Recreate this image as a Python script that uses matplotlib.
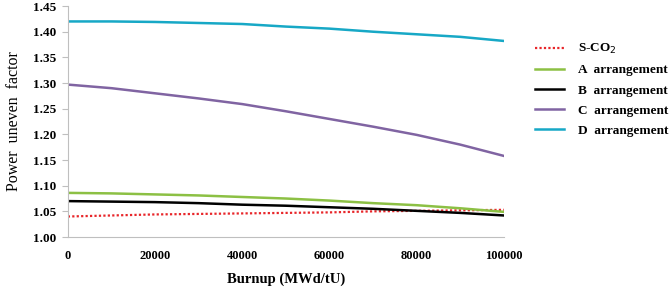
import matplotlib.pyplot as plt

# burnup points (MWd/tU)
burnup = [0, 10000, 20000, 30000, 40000, 50000, 60000, 70000, 80000, 90000, 100000]

sco2 = [1.040, 1.042, 1.044, 1.045, 1.046, 1.047, 1.048, 1.050, 1.051, 1.052, 1.053]
arr_a = [1.086, 1.085, 1.083, 1.081, 1.078, 1.075, 1.071, 1.066, 1.062, 1.056, 1.049]
arr_b = [1.070, 1.069, 1.068, 1.066, 1.063, 1.061, 1.058, 1.055, 1.051, 1.047, 1.042]
arr_c = [1.297, 1.290, 1.280, 1.270, 1.259, 1.245, 1.230, 1.215, 1.199, 1.180, 1.158]
arr_d = [1.420, 1.420, 1.419, 1.417, 1.415, 1.410, 1.406, 1.400, 1.395, 1.390, 1.382]

yticks = [1.00, 1.05, 1.10, 1.15, 1.20, 1.25, 1.30, 1.35, 1.40, 1.45]
xticks = [0, 20000, 40000, 60000, 80000, 100000]

plt.rcParams['font.family'] = ['Liberation Serif', 'DejaVu Serif']

fig = plt.figure(figsize=(6.71, 2.88), dpi=100)
ax = fig.add_axes([0.101, 0.177, 0.650, 0.802])

ax.plot(burnup, sco2, color='#e8262a', lw=1.6, linestyle=(0, (1, 1)), label='S-CO$_2$')
ax.plot(burnup, arr_a, color='#8cc044', lw=1.8, label='A  arrangement')
ax.plot(burnup, arr_b, color='black', lw=1.8, label='B  arrangement')
ax.plot(burnup, arr_c, color='#8064a2', lw=1.8, label='C  arrangement')
ax.plot(burnup, arr_d, color='#17a8c6', lw=1.8, label='D  arrangement')

ax.set_xlim(0, 100000)
ax.set_ylim(1.00, 1.45)
ax.set_xticks(xticks)
ax.set_xticklabels([str(x) for x in xticks], fontweight='bold', fontsize=9)
ax.set_yticks(yticks)
ax.set_yticklabels([f'{y:.2f}' for y in yticks], fontweight='bold', fontsize=9.5)
ax.tick_params(axis='x', length=0, pad=9)
ax.tick_params(axis='y', length=4, color='#bfbfbf', pad=4)

for side in ['top', 'right']:
    ax.spines[side].set_visible(False)
for side in ['left', 'bottom']:
    ax.spines[side].set_color('#bfbfbf')

ax.set_xlabel('Burnup (MWd/tU)', fontweight='bold', fontsize=10.5, labelpad=8)
ax.set_ylabel('Power  uneven  factor', fontsize=11.5, labelpad=8)

ax.legend(loc='upper left', bbox_to_anchor=(1.045, 0.895), frameon=False,
          prop={'weight': 'bold', 'size': 9.5}, handlelength=2.2,
          labelspacing=0.6, handletextpad=1.0)

fig.savefig('out.png', dpi=100)
